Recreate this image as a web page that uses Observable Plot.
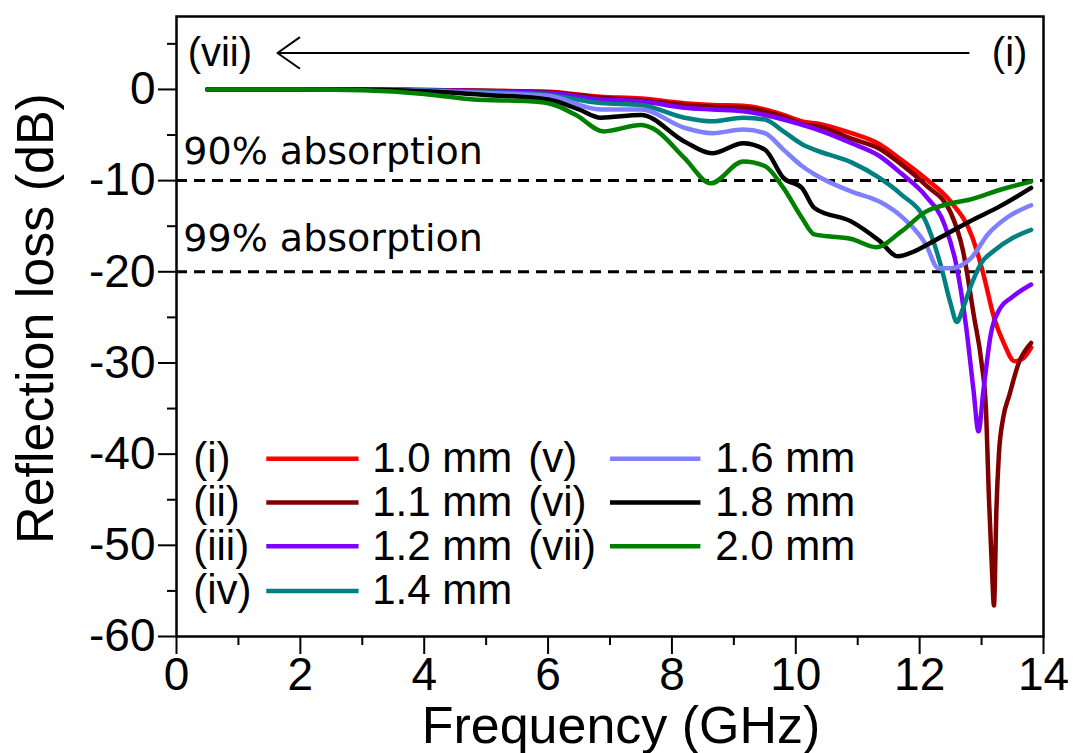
<!DOCTYPE html>
<html>
<head>
<meta charset="utf-8">
<script src="https://cdn.jsdelivr.net/npm/d3@7"></script>
<script src="https://cdn.jsdelivr.net/npm/@observablehq/plot@0.6"></script>
<style>
  html, body { margin: 0; padding: 0; background: #fff; }
  #chart { width: 1075px; height: 753px; }
</style>
</head>
<body>
<div id="chart"></div>
<script>
// ---- Series metadata ----
const seriesNames  = ["1.0 mm", "1.1 mm", "1.2 mm", "1.4 mm", "1.6 mm", "1.8 mm", "2.0 mm"];
const seriesRoman  = ["(i)", "(ii)", "(iii)", "(iv)", "(v)", "(vi)", "(vii)"];
const seriesColors = ["#ff0000", "#800000", "#8000ff", "#008080", "#8080ff", "#000000", "#008000"];

// ---- Data (frequency in GHz, reflection loss in dB) ----
const freq_10 = [0.5, 2, 3, 4, 5, 6, 6.85, 7.5, 8.2, 8.65, 9.15, 9.5, 9.8, 10.1, 10.4, 10.9, 11.35, 11.7, 12.1, 12.5, 12.85, 13.02, 13.2, 13.37, 13.53, 13.65, 13.8];
const rl_10   = [0, 0, 0, -0.05, -0.15, -0.25, -0.8, -1.0, -1.5, -1.7, -1.8, -2.2, -2.8, -3.5, -3.8, -4.8, -6.0, -7.7, -9.8, -12.3, -16.2, -20, -25, -28, -29.8, -29.6, -28.3];

const freq_11 = [0.5, 2, 3, 4, 5, 6, 6.85, 7.5, 8.2, 8.65, 9.15, 9.5, 9.8, 10.1, 10.4, 10.9, 11.35, 11.7, 12.1, 12.5, 12.7, 12.88, 13.0, 13.07, 13.12, 13.17, 13.2, 13.24, 13.28, 13.35, 13.45, 13.6, 13.8];
const rl_11   = [0, 0, 0, -0.05, -0.15, -0.3, -0.9, -1.2, -1.7, -1.9, -2.0, -2.4, -3.0, -3.8, -4.1, -5.4, -6.5, -8.2, -10.5, -13.5, -17.7, -25, -30, -35, -45, -53, -56.6, -46, -40, -36, -33.5, -30, -27.8];

const freq_12 = [0.5, 2, 3, 4, 5, 6, 6.85, 7.5, 8.2, 8.65, 9.15, 9.5, 9.8, 10.3, 10.9, 11.35, 11.7, 12.1, 12.4, 12.6, 12.75, 12.87, 12.95, 13.03, 13.15, 13.3, 13.47, 13.8];
const rl_12   = [0, 0, 0, -0.1, -0.2, -0.4, -1.1, -1.3, -2.0, -2.2, -2.4, -2.8, -3.3, -4.3, -5.9, -7.3, -9.2, -11.7, -14.8, -19.5, -26, -33, -37.5, -33, -26.8, -24, -22.9, -21.4];

const freq_14 = [0.5, 2, 3, 4, 5, 6, 6.85, 7.5, 8.2, 8.65, 9.15, 9.5, 9.8, 10.1, 10.3, 10.9, 11.35, 11.7, 12.1, 12.35, 12.5, 12.6, 12.7, 12.83, 13.0, 13.2, 13.5, 13.8];
const rl_14   = [0, 0, 0, -0.1, -0.3, -0.6, -1.5, -1.7, -3.1, -3.5, -3.1, -3.3, -4.6, -6.0, -6.6, -8.0, -9.7, -11.5, -14.5, -19.5, -23.5, -25.5, -24, -21.5, -19, -17.7, -16.3, -15.4];

const freq_16 = [0.5, 2, 3, 4, 5, 6, 6.85, 7.5, 8.2, 8.65, 9.15, 9.5, 9.8, 10.1, 10.3, 10.9, 11.35, 11.7, 12.1, 12.3, 12.5, 12.83, 13.1, 13.4, 13.8];
const rl_16   = [0, 0, 0, -0.15, -0.4, -0.7, -2.2, -2.2, -4.2, -4.8, -4.4, -4.8, -6.6, -8.4, -9.3, -11.2, -12.3, -13.9, -17, -19.6, -19.6, -18.5, -15.9, -14.1, -12.7];

const freq_18 = [0.5, 2, 3, 4, 5, 6, 6.5, 6.85, 7.5, 8.2, 8.65, 9.15, 9.5, 9.8, 10.1, 10.3, 10.9, 11.35, 11.65, 11.9, 12.13, 12.5, 12.8, 13.3, 13.8];
const rl_18   = [0, 0, 0, -0.2, -0.6, -1.1, -2.2, -3.1, -2.8, -5.7, -7.0, -5.9, -6.6, -9.7, -10.8, -13, -14.5, -16.6, -18.3, -17.8, -17, -15.6, -14.5, -12.8, -10.8];

const freq_20 = [0.5, 2, 3, 4, 4.8, 5.7, 6.05, 6.45, 6.9, 7.5, 7.7, 8.2, 8.63, 9.15, 9.5, 9.8, 10.1, 10.3, 10.9, 11.3, 11.7, 12.1, 12.5, 12.8, 13.3, 13.8];
const rl_20   = [0, 0, -0.1, -0.5, -1.1, -1.3, -1.6, -2.8, -4.6, -3.9, -4.3, -7.5, -10.3, -7.9, -8.4, -10.8, -14.1, -15.9, -16.4, -17.3, -15.6, -13.4, -12.5, -12.1, -11, -10.1];

const seriesFreq = [freq_10, freq_11, freq_12, freq_14, freq_16, freq_18, freq_20];
const seriesRL   = [rl_10, rl_11, rl_12, rl_14, rl_16, rl_18, rl_20];

// ---- Thresholds and ticks ----
const thresholds = [-10, -20];
const thresholdLabels = ["90% absorption", "99% absorption"];
const xMajorTicks = [0, 2, 4, 6, 8, 10, 12, 14];
const xMinorTicks = [1, 3, 5, 7, 9, 11, 13];
const yMajorTicks = [0, -10, -20, -30, -40, -50, -60];
const yMinorTicks = [5, -5, -15, -25, -35, -45, -55];

// ---- Build tables ----
const rows = [];
seriesNames.forEach((name, i) => {
  seriesFreq[i].forEach((f, j) => rows.push({series: name, f, rl: seriesRL[i][j]}));
});

// legend layout (data-space anchors)
const legendRowY = [-40.5, -45.3, -50.1, -55.0];
const legendCols = [
  {roman: 0.27, x1: 1.45, x2: 2.94, text: 3.16},
  {roman: 5.68, x1: 7.0, x2: 8.46, text: 8.70}
];
const legend = seriesNames.map((name, i) => {
  const c = legendCols[i < 4 ? 0 : 1];
  const y = legendRowY[i < 4 ? i : i - 4];
  return {name, roman: seriesRoman[i], y, rx: c.roman, x1: c.x1, x2: c.x2, tx: c.text};
});

const thresholdText = thresholdLabels.map((t, i) => ({t, x: 0.11, y: [-6.8, -16.35][i]}));

const tickFont = "'Liberation Sans Narrow', 'Arial Narrow', 'Liberation Sans', Arial, sans-serif";

const chart = Plot.plot({
  width: 1075,
  height: 753,
  marginLeft: 176,
  marginRight: 32,
  marginTop: 16,
  marginBottom: 117,
  x: {domain: [0, 14]},
  y: {domain: [-60, 8]},
  color: {domain: seriesNames, range: seriesColors},
  style: {fontFamily: "'Liberation Sans', Arial, sans-serif", background: "white", color: "black"},
  marks: [
    Plot.ruleY(thresholds, {stroke: "black", strokeWidth: 3, strokeDasharray: "11,7"}),
    Plot.text(thresholdText, {x: "x", y: "y", text: "t", textAnchor: "start", fontSize: 38, fontFamily: "'DejaVu Sans', sans-serif", fill: "black"}),
    Plot.line(rows, {x: "f", y: "rl", z: "series", stroke: "series", strokeWidth: 4.5, curve: "monotone-x", strokeLinejoin: "round"}),
    // arrow annotation
    Plot.arrow([{x1: 12.79, x2: 1.63, y: 4.0}], {x1: "x1", x2: "x2", y1: "y", y2: "y", stroke: "black", strokeWidth: 2, headLength: 20, headAngle: 70}),
    Plot.text([seriesRoman[6]], {x: 0.18, y: 4.0, text: d => d, textAnchor: "start", fontSize: 40}),
    Plot.text([seriesRoman[0]], {x: 13.74, y: 4.0, text: d => d, textAnchor: "end", fontSize: 40}),
    // legend
    Plot.link(legend, {x1: "x1", x2: "x2", y1: "y", y2: "y", stroke: "name", strokeWidth: 4.5}),
    Plot.text(legend, {x: "rx", y: "y", text: "roman", textAnchor: "start", fontSize: 42}),
    Plot.text(legend, {x: "tx", y: "y", text: "name", textAnchor: "start", fontSize: 42}),
    // frame & axes
    Plot.frame({stroke: "black", strokeWidth: 2.5}),
    Plot.axisX({ticks: xMajorTicks, tickSize: 18, tickPadding: 3, fontSize: 46, fontFamily: tickFont, label: null, strokeWidth: 2, tickFormat: d => String(d)}),
    Plot.axisX({ticks: xMinorTicks, tickSize: 9, text: null, label: null, strokeWidth: 2}),
    Plot.axisY({ticks: yMajorTicks, tickSize: 18, tickPadding: 3, fontSize: 46, fontFamily: tickFont, label: null, strokeWidth: 2, tickFormat: d => String(d)}),
    Plot.axisY({ticks: yMinorTicks, tickSize: 9, text: null, label: null, strokeWidth: 2}),
    // axis titles
    Plot.text(["Frequency (GHz)"], {frameAnchor: "bottom", text: d => d, textAnchor: "middle", lineAnchor: "middle", dy: 90, dx: 11, fontSize: 52}),
    Plot.text(["Reflection loss (dB)"], {frameAnchor: "left", text: d => d, textAnchor: "middle", lineAnchor: "middle", rotate: -90, dx: -140, dy: -8, fontSize: 52})
  ]
});
document.getElementById("chart").appendChild(chart);
</script>
</body>
</html>
